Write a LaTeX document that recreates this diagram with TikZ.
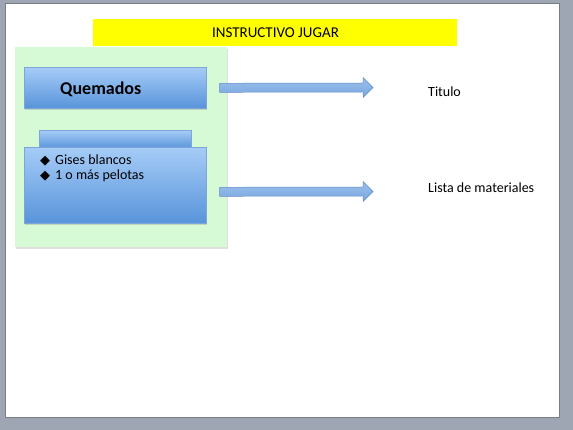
\documentclass[tikz,border=0pt]{standalone}
\usepackage{fontspec}
\setmainfont{Carlito}
\newfontfamily\symfont{DejaVu Sans}
\usetikzlibrary{calc,shadows}
\definecolor{bgGray}{RGB}{158,166,179}
\definecolor{edgeGray}{RGB}{120,126,138}
\definecolor{titleYellow}{RGB}{255,255,0}
\definecolor{panelGreen}{RGB}{214,250,214}
\definecolor{boxTop}{RGB}{166,204,247}
\definecolor{boxBot}{RGB}{88,148,218}
\definecolor{boxLine}{RGB}{125,165,215}
\definecolor{arrTop}{RGB}{155,193,236}
\definecolor{arrBot}{RGB}{120,166,222}
\definecolor{arrLine}{RGB}{95,140,200}
\tikzset{
  slide/.style={fill=white, draw=edgeGray, line width=0.6pt},
  titlebar/.style={fill=titleYellow, draw=none, minimum width=364pt, minimum height=27pt, anchor=north west, inner sep=0pt, font=\fontsize{15}{18}\selectfont},
  panel/.style={fill=panelGreen, draw=none, minimum width=212pt, minimum height=200pt, anchor=north west, inner sep=0pt,
     drop shadow={opacity=0.25, shadow xshift=1pt, shadow yshift=-1.5pt}},
  bluebox/.style={top color=boxTop, bottom color=boxBot, draw=boxLine, line width=0.6pt, anchor=north west, inner sep=0pt,
     drop shadow={opacity=0.3, shadow xshift=1pt, shadow yshift=-1.5pt}},
  bigarrow/.style={top color=arrTop, bottom color=arrBot, draw=arrLine, line width=0.5pt},
  plaintext/.style={font=\fontsize{14}{16}\selectfont, inner sep=0pt, anchor=west},
}
\begin{document}
\begin{tikzpicture}[x=1pt,y=-1pt]
\useasboundingbox (0,0) rectangle (573,430);
\fill[bgGray] (0,0) rectangle (573,430);
\fill[edgeGray!70] (6,4.5) rectangle (561,419);
\node[slide, minimum width=554pt, minimum height=414pt, anchor=north west, inner sep=0pt] (slide) at (5,3) {};
% title
\node[titlebar] (title) at (93,19) {};
\node[font=\fontsize{15}{18}\selectfont, inner sep=0pt] (titletext) at (275.5,33) {INSTRUCTIVO JUGAR};
% green panel
\node[panel] (panel) at (15,47) {};
% Quemados box
\node[bluebox, minimum width=182pt, minimum height=41pt] (q) at (24,67) {};
\node[font=\bfseries\fontsize{18}{21}\selectfont, inner sep=0pt, anchor=west] (qtext) at (60,89) {Quemados};
% tab box and list box
\node[bluebox, minimum width=152pt, minimum height=18pt] (tab) at (39,130) {};
\node[bluebox, minimum width=182pt, minimum height=76pt] (list) at (24,147) {};
\node[plaintext, anchor=north west] (items) at (40,153) {%
  \begin{tabular}{@{}l@{\hspace{5pt}}l@{}}
  {\symfont\fontsize{13}{16}\selectfont ◆} & Gises blancos\\[-0.5pt]
  {\symfont\fontsize{13}{16}\selectfont ◆} & 1 o más pelotas
  \end{tabular}};
% labels
\node[plaintext] (l1) at (428,92) {Titulo};
\node[plaintext] (l2) at (428,188) {Lista de materiales};
% arrows
\coordinate (a1s) at ($(q.east)+(13,0)$);
\coordinate (a1e) at (373,87.5);
\coordinate (a2s) at ($(list.east)+(13,6.5)$);
\coordinate (a2e) at (373,191.5);
\foreach \s/\e in {a1s/a1e, a2s/a2e}{
  \path[bigarrow] ($(\s)+(0,-4.5)$) -- ($(\e)+(-10,-4.5)$) -- ($(\e)+(-10,-10)$) -- (\e)
     -- ($(\e)+(-10,10)$) -- ($(\e)+(-10,4.5)$) -- ($(\s)+(0,4.5)$) -- cycle;
}
\end{tikzpicture}
\end{document}
